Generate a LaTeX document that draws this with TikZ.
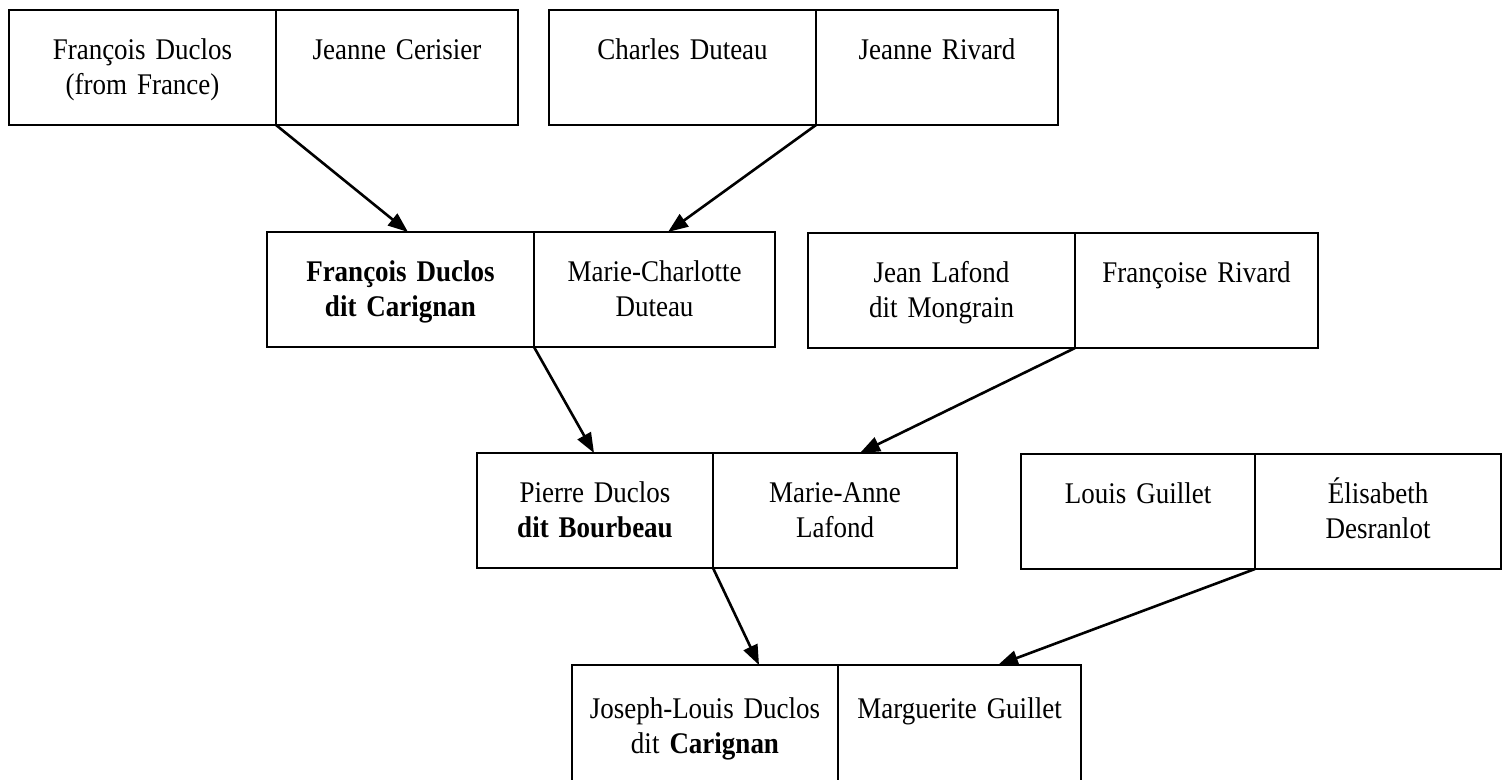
\documentclass[tikz,border=0pt]{standalone}
\usepackage{fontspec}
\setmainfont{Liberation Serif}[FakeStretch=0.9,WordSpace=0.7]
\usetikzlibrary{arrows.meta}
\newcommand\famfont{\fontsize{30}{35}\selectfont}
\newcommand\twol[2]{\rule{0pt}{27pt}#1\\\rule[-8pt]{0pt}{8pt}#2}
\tikzset{
  half/.style={draw, line width=2pt, anchor=north west, align=center,
    inner xsep=0pt, inner ysep=0pt, outer sep=0pt, minimum height=115pt, font=\famfont},
  arr/.style={line width=2.6pt, -{Triangle[length=20pt,width=15pt]}}
}
\begin{document}
\begin{tikzpicture}[x=1pt,y=-1pt]
\clip (0,0) rectangle (1506,779);
\fill[white] (0,0) rectangle (1506,779);
% row 1
\node[half, text width=267pt] (b1l) at (9,10) {\twol{François Duclos}{(from France)}};
\node[half, text width=242pt] (b1r) at (b1l.north east) {\twol{Jeanne Cerisier}{}};
\node[half, text width=267pt] (b2l) at (549,10) {\twol{Charles Duteau}{}};
\node[half, text width=242pt] (b2r) at (b2l.north east) {\twol{Jeanne Rivard}{}};
% row 2
\node[half, text width=267pt] (b3l) at (267,232) {\bfseries\twol{François Duclos}{dit Carignan}};
\node[half, text width=241pt] (b3r) at (b3l.north east) {\twol{Marie-Charlotte}{Duteau}};
\node[half, text width=267pt] (b4l) at (808,233) {\twol{Jean Lafond}{dit Mongrain}};
\node[half, text width=243pt] (b4r) at (b4l.north east) {\twol{Françoise Rivard}{}};
% row 3
\node[half, text width=236pt] (b5l) at (477,453) {\twol{Pierre Duclos}{\textbf{dit Bourbeau}}};
\node[half, text width=244pt] (b5r) at (b5l.north east) {\twol{Marie-Anne}{Lafond}};
\node[half, text width=234pt] (b6l) at (1021,454) {\twol{Louis Guillet}{}};
\node[half, text width=246pt] (b6r) at (b6l.north east) {\twol{Élisabeth}{Desranlot}};
% row 4
\node[half, text width=266pt, minimum height=122pt] (b7l) at (572,665) {\twol{Joseph-Louis Duclos}{dit \textbf{Carignan}}};
\node[half, text width=243pt, minimum height=122pt] (b7r) at (b7l.north east) {\twol{Marguerite Guillet}{}};
% connectors
\draw[arr] (b1l.south east) -- ([xshift=141pt]b3l.north west);
\draw[arr] (b2l.south east) -- ([xshift=134pt]b3r.north west);
\draw[arr] (b3l.south east) -- ([xshift=117pt]b5l.north west);
\draw[arr] (b4l.south east) -- ([xshift=147pt]b5r.north west);
\draw[arr] (b5l.south east) -- ([xshift=187pt]b7l.north west);
\draw[arr] (b6l.south east) -- ([xshift=160pt]b7r.north west);
\end{tikzpicture}
\end{document}
